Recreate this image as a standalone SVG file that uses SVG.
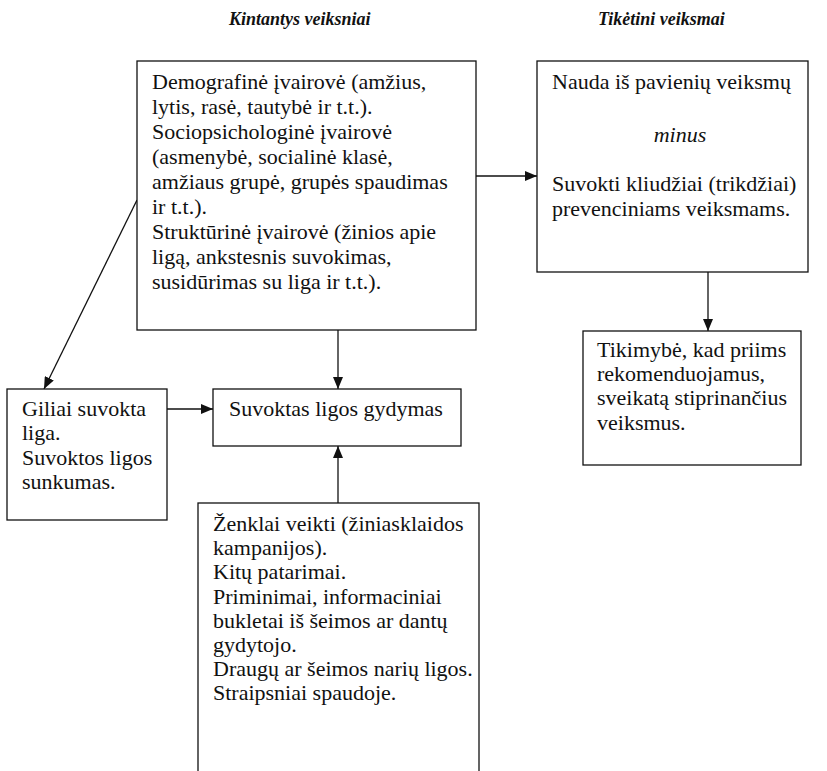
<svg xmlns="http://www.w3.org/2000/svg" width="827" height="771" viewBox="0 0 827 771">
<style>
.box{fill:#fff;stroke:#111;stroke-width:1.3}
.t{font-family:"Liberation Serif","Times New Roman",serif;font-size:22px;fill:#111}
.h{font-family:"Liberation Serif","Times New Roman",serif;font-size:18px;font-weight:bold;font-style:italic;fill:#111}
.c{stroke:#111;stroke-width:1.3;fill:none;marker-end:url(#ah)}
</style>
<defs>
<marker id="ah" markerUnits="userSpaceOnUse" markerWidth="12" markerHeight="10" refX="12" refY="5" orient="auto">
<path d="M0,0 L12,5 L0,10 z" fill="#111"/>
</marker>
</defs>
<rect width="827" height="771" fill="#fff"/>
<text class="h" x="229" y="25">Kintantys veiksniai</text>
<text class="h" x="598" y="25">Tikėtini veiksmai</text>
<g id="connectors">
<line class="c" x1="476" y1="176" x2="537" y2="176"/>
<line class="c" x1="338" y1="330" x2="338" y2="389"/>
<line class="c" x1="137" y1="200" x2="44" y2="389"/>
<line class="c" x1="167" y1="409" x2="213" y2="409"/>
<line class="c" x1="338" y1="503" x2="338" y2="446"/>
<line class="c" x1="708" y1="272" x2="708" y2="331"/>
</g>
<g id="n1">
<rect class="box" x="137" y="61" width="339" height="269"/>
<text class="t" x="152" y="89">Demografinė įvairovė (amžius,</text>
<text class="t" x="152" y="114">lytis, rasė, tautybė ir t.t.).</text>
<text class="t" x="152" y="139">Sociopsichologinė įvairovė</text>
<text class="t" x="152" y="164">(asmenybė, socialinė klasė,</text>
<text class="t" x="152" y="189">amžiaus grupė, grupės spaudimas</text>
<text class="t" x="152" y="214">ir t.t.).</text>
<text class="t" x="152" y="239">Struktūrinė įvairovė (žinios apie</text>
<text class="t" x="152" y="264">ligą, ankstesnis suvokimas,</text>
<text class="t" x="152" y="289">susidūrimas su liga ir t.t.).</text>
</g>
<g id="n2">
<rect class="box" x="537" y="61" width="271" height="211"/>
<text class="t" x="552" y="89">Nauda iš pavienių veiksmų</text>
<text class="t" x="680" y="142" text-anchor="middle" font-style="italic">minus</text>
<text class="t" x="552" y="191">Suvokti kliudžiai (trikdžiai)</text>
<text class="t" x="552" y="215.5">prevenciniams veiksmams.</text>
</g>
<g id="n3">
<rect class="box" x="7" y="389" width="160" height="131"/>
<text class="t" x="22" y="416">Giliai suvokta</text>
<text class="t" x="22" y="440.4">liga.</text>
<text class="t" x="22" y="464.8">Suvoktos ligos</text>
<text class="t" x="22" y="489.2">sunkumas.</text>
</g>
<g id="n4">
<rect class="box" x="213" y="389" width="248" height="57"/>
<text class="t" x="229" y="416">Suvoktas ligos gydymas</text>
</g>
<g id="n5">
<rect class="box" x="198" y="503" width="281" height="300"/>
<text class="t" x="213" y="531">Ženklai veikti (žiniasklaidos</text>
<text class="t" x="213" y="555.2">kampanijos).</text>
<text class="t" x="213" y="579.4">Kitų patarimai.</text>
<text class="t" x="213" y="603.6">Priminimai, informaciniai</text>
<text class="t" x="213" y="627.8">bukletai iš šeimos ar dantų</text>
<text class="t" x="213" y="652">gydytojo.</text>
<text class="t" x="213" y="676.2">Draugų ar šeimos narių ligos.</text>
<text class="t" x="213" y="700.4">Straipsniai spaudoje.</text>
</g>
<g id="n6">
<rect class="box" x="583" y="331" width="218" height="134"/>
<text class="t" x="597" y="357">Tikimybė, kad priims</text>
<text class="t" x="597" y="381.2">rekomenduojamus,</text>
<text class="t" x="597" y="405.4">sveikatą stiprinančius</text>
<text class="t" x="597" y="429.6">veiksmus.</text>
</g>
</svg>
